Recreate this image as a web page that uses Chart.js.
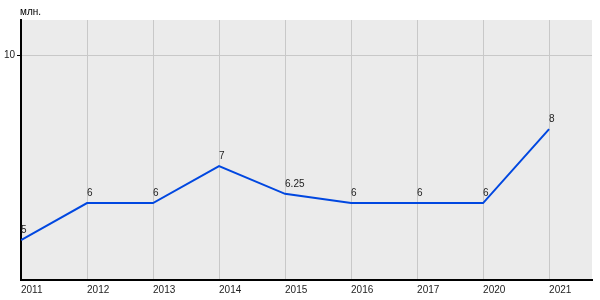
<!DOCTYPE html>
<html>
<head>
<meta charset="utf-8">
<script src="https://cdn.jsdelivr.net/npm/chart.js@4.4.7/dist/chart.umd.min.js"></script>
<style>
  html, body { margin: 0; padding: 0; background: #fff; }
  #wrap { position: relative; width: 600px; height: 300px; }
</style>
</head>
<body>
<div id="wrap"><canvas id="c" width="600" height="300"></canvas></div>
<script>
// Values
const years = ['2011', '2012', '2013', '2014', '2015', '2016', '2017', '2020', '2021'];
const values = [5, 6, 6, 7, 6.25, 6, 6, 6, 8];
const valueLabels = ['5', '6', '6', '7', '6.25', '6', '6', '6', '8'];
const yTicks = [10];
const unitLabel = 'млн.';

const FONT = 'Liberation Sans, Arial, sans-serif';

// plot background + unit caption
const backdrop = {
  id: 'backdrop',
  beforeDraw(chart) {
    const { ctx, chartArea: a } = chart;
    ctx.save();
    ctx.fillStyle = '#ebebeb';
    ctx.fillRect(a.left, a.top, a.right - a.left, a.bottom - a.top);
    ctx.fillStyle = '#000';
    ctx.font = '10px ' + FONT;
    ctx.textBaseline = 'middle';
    ctx.fillText(unitLabel, 20, 12);
    ctx.restore();
  }
};

// small value labels just above each point
const pointLabels = {
  id: 'pointLabels',
  afterDatasetsDraw(chart) {
    const { ctx } = chart;
    const meta = chart.getDatasetMeta(0);
    ctx.save();
    ctx.fillStyle = '#222';
    ctx.font = '10px ' + FONT;
    ctx.textAlign = 'left';
    ctx.textBaseline = 'bottom';
    meta.data.forEach((pt, i) => {
      ctx.fillText(valueLabels[i], pt.x, pt.y - 5);
    });
    ctx.restore();
  }
};

new Chart(document.getElementById('c'), {
  type: 'line',
  data: {
    datasets: [{
      data: values.map((v, i) => ({ x: i, y: v })),
      borderColor: '#0047e0',
      borderWidth: 2,
      pointRadius: 0,
      tension: 0,
      fill: false
    }]
  },
  plugins: [backdrop, pointLabels],
  options: {
    responsive: false,
    animation: false,
    events: [],
    layout: { padding: { top: 20, right: 8, left: 0, bottom: 0 } },
    plugins: { legend: { display: false }, tooltip: { enabled: false } },
    scales: {
      x: {
        type: 'linear',
        min: 0,
        max: 8.65,
        afterBuildTicks(axis) {
          axis.ticks = years.map((_, i) => ({ value: i }));
        },
        afterFit(axis) { axis.height = 20; },
        border: { display: true, color: '#000', width: 2 },
        grid: { color: '#c8c8c8', lineWidth: 1, drawTicks: false },
        ticks: {
          align: 'start',
          padding: 4,
          maxRotation: 0,
          autoSkip: false,
          color: '#222',
          font: { family: FONT, size: 10 },
          callback: (v) => years[v]
        }
      },
      y: {
        min: 3.92,
        max: 10.95,
        afterBuildTicks(axis) {
          axis.ticks = yTicks.map(v => ({ value: v }));
        },
        afterFit(axis) { axis.width = 21; },
        border: { display: true, color: '#000', width: 2 },
        grid: { color: '#c8c8c8', lineWidth: 1, drawTicks: true, tickLength: 4, tickColor: '#000' },
        ticks: {
          padding: 2,
          color: '#222',
          font: { family: FONT, size: 10 }
        }
      }
    }
  }
});
</script>
</body>
</html>
